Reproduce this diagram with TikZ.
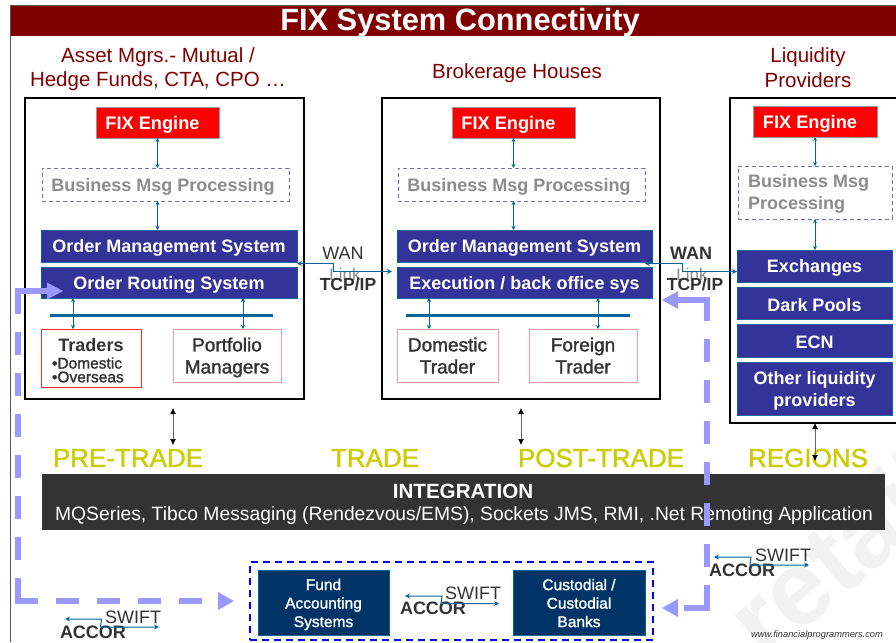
\documentclass[tikz,border=0pt]{standalone}
\usepackage{fontspec}
\setmainfont{Liberation Sans}
\newfontfamily\midf[FakeBold=1.5]{Liberation Sans}
\usetikzlibrary{arrows.meta}
\definecolor{maroon}{HTML}{800000}
\definecolor{navyb}{HTML}{333399}
\definecolor{tealc}{HTML}{006699}
\definecolor{lilac}{HTML}{9999FF}
\definecolor{deep}{HTML}{003366}
\definecolor{dark}{HTML}{333333}
\definecolor{olive}{HTML}{CCCC00}
\definecolor{wm}{HTML}{F2F2F2}
\definecolor{traderline}{RGB}{255,40,40}
\definecolor{pinkline}{HTML}{FF9999}
\newcommand{\fs}[1]{\fontsize{#1}{#1}\selectfont}
\newcommand{\bx}[7]{%
  \pgfmathsetmacro{\bxa}{(#3+#5)/2}\pgfmathsetmacro{\bxb}{(#4+#6)/2}%
  \pgfmathsetmacro{\bxc}{#5-#3}\pgfmathsetmacro{\bxd}{#6-#4}%
  \node[#1,minimum width=\bxc pt,minimum height=\bxd pt] (#2) at (\bxa,\bxb) {};%
  \node[#1,draw=none,fill=none,yshift=-2pt] (#2t) at (\bxa,\bxb) {#7};}
\tikzset{
  x=1pt,y=-1pt,
  every node/.style={inner sep=0pt,outer sep=0pt,align=center},
  panel/.style={draw=black,line width=2.6pt,fill=white},
  fixbox/.style={fill=red,draw=black!40,line width=.5pt,text=white,font=\bfseries\fs{18.2}},
  msgbox/.style={draw=navyb!70,line width=.7pt,dash pattern=on 4pt off 3pt,fill=white,text=black!45,font=\bfseries\fs{18}},
  bluebox/.style={fill=navyb,draw=tealc,line width=.6pt,text=white,font=\bfseries\fs{18}},
  pinkbox/.style={fill=white,draw=pinkline,line width=.8pt,text=dark,font=\midf\fs{19}},
  intbox/.style={fill=dark,text=white},
  deepbox/.style={fill=deep,draw=tealc,line width=.5pt,text=white,font=\midf\fs{15.5}},
  groupbox/.style={draw=blue,line width=1.5pt,dash pattern=on 7pt off 5pt},
  head/.style={maroon,font=\fs{20.5}},
  phase/.style={text=olive,font=\midf\fs{26}},
  link/.style={draw=tealc,line width=1pt,{Stealth[length=4pt,width=4pt]}-{Stealth[length=4pt,width=4pt]}},
  zig/.style={draw=tealc,line width=1pt,{Stealth[length=5pt,width=5pt]}-{Stealth[length=5pt,width=5pt]}},
  vert/.style={draw=black!60,line width=.7pt,{Latex[length=6pt,width=6pt,black]}-{Latex[length=6pt,width=6pt,black]}},
  bar/.style={draw=tealc,line width=3pt},
  lil/.style={draw=lilac,line width=5.5pt,dash pattern=on 23pt off 18pt},
  lilsolid/.style={draw=lilac,line width=5.5pt},
  lilhead/.style={fill=lilac},
  lbl/.style={text=dark},
}
\begin{document}
\begin{tikzpicture}
\useasboundingbox (0,0) rectangle (896,642);
\fill[white] (0,0) rectangle (896,642);
\begin{scope}
\clip (0,0) rectangle (896,642);
\node[rotate=40,text=wm,font=\bfseries\fs{105}] (wmark) at (837,553) {retail};
\end{scope}
\draw[black!65,line width=.8pt] (896,5.5) -- (10.5,5.5) -- (10.5,642);
\fill[maroon] (10.5,6) rectangle (896,36.5);
\node[text=white,font=\bfseries\fs{30.8}] (title) at (460,23) {FIX System Connectivity};
\node[head] (h1a) at (158,57) {Asset Mgrs.- Mutual /};
\node[head] (h1b) at (158,81) {Hedge Funds, CTA, CPO …};
\node[head] (h2) at (517,73) {Brokerage Houses};
\node[head] (h3a) at (808,57) {Liquidity};
\node[head] (h3b) at (808,80) {Providers};
% panels
\bx{panel}{p1}{25}{98}{304}{399}{}
\bx{panel}{p2}{382}{98}{660}{399}{}
\bx{panel}{p3}{730}{98}{910}{423}{}
% left panel
\bx{fixbox}{f1}{96}{107}{219}{138}{FIX Engine\rule{10pt}{0pt}}
\bx{msgbox}{m1}{42}{168}{289}{201}{Business Msg Processing\rule{5pt}{0pt}}
\bx{bluebox}{o1}{41}{230}{297}{262}{Order Management System}
\bx{bluebox}{r1}{41}{267}{297}{298}{Order Routing System}
\bx{pinkbox}{q1}{173}{329}{281}{382}{Portfolio\\[3pt]Managers}
\node[text=dark,font=\bfseries\fs{18}] (t1a) at (91,345) {Traders};
\node[text=dark,font=\midf\fs{15.5}, anchor=west] (t1b) at (52,363) {•Domestic};
\node[text=dark,font=\midf\fs{15.5}, anchor=west] (t1c) at (52,377) {•Overseas};
\draw[draw=traderline,line width=1pt] (41,329) rectangle (141,387);
\coordinate (t1n) at (91,329);
% middle panel
\bx{fixbox}{f2}{452}{107}{575}{138}{FIX Engine\rule{10pt}{0pt}}
\bx{msgbox}{m2}{398}{168}{645}{201}{Business Msg Processing\rule{5pt}{0pt}}
\bx{bluebox}{o2}{397}{230}{652}{262}{Order Management System}
\bx{bluebox}{r2}{397}{267}{652}{298}{Execution / back office sys}
\bx{pinkbox}{d2}{397}{329}{498}{382}{Domestic\\[3pt]Trader\rule[-4pt]{0pt}{1pt}}
\bx{pinkbox}{q2}{529}{329}{637}{382}{Foreign\\[3pt]Trader\rule[-4pt]{0pt}{1pt}}
% right panel
\bx{fixbox}{f3}{753}{106}{877}{137}{FIX Engine\rule{10pt}{0pt}}
\bx{msgbox}{m3}{738}{166}{892}{219}{}
\node[text=black!45,font=\bfseries\fs{18},align=left,anchor=west] (m3x) at (748,194) {Business Msg\\[4pt]Processing};
\bx{bluebox}{x3}{737}{250}{892}{282}{Exchanges}
\bx{bluebox}{y3}{737}{287}{892}{319}{Dark Pools}
\bx{bluebox}{z3}{737}{324}{892}{357}{ECN}
\bx{bluebox}{w3}{737}{362}{892}{415}{Other liquidity\\[4pt]providers}
% inner links
\draw[link] (f1.south) -- (f1.south |- m1.north);
\draw[link] (f1.south |- m1.south) -- (f1.south |- o1.north);
\draw[link] (f2.south) -- (f2.south |- m2.north);
\draw[link] (f2.south |- m2.south) -- (f2.south |- o2.north);
\draw[link] (f3.south) -- (f3.south |- m3.north);
\draw[link] (f3.south |- m3.south) -- (f3.south |- x3.north);
\coordinate (b1l) at (50,315); \coordinate (b1r) at (273,315);
\coordinate (b2l) at (406,315); \coordinate (b2r) at (630,315);
\draw[bar] (b1l) -- (b1r);
\draw[bar] (b2l) -- (b2r);
\draw[link] (73,298) -- (73,329);
\draw[link] (243,298) -- (243,329);
\draw[link] (429,298) -- (429,329);
\draw[link] (598,298) -- (598,329);
% WAN labels
\node[text=black!45,font=\fs{17}] (lk1) at (345,274) {Link};
\node[text=black!45,font=\fs{17}] (lk2) at (692,274) {Link};
\node[text=dark,font=\fs{18}] (wan1) at (343,253) {WAN};
\node[text=dark,font=\bfseries\fs{18}] (wan2) at (691,253) {WAN};
\node[text=dark,font=\bfseries\fs{17.5}] (tcp1) at (348,284) {TCP/IP};
\node[text=dark,font=\bfseries\fs{17.5}] (tcp2) at (695,284) {TCP/IP};
\coordinate (w1a) at (297,263.5); \coordinate (w1b) at (333,263.5); \coordinate (w1c) at (333,271.5); \coordinate (w1d) at (392,271.5);
\draw[zig] (w1a) -- (w1b) -- (w1c) -- (w1d);
\coordinate (w2a) at (645,263.5); \coordinate (w2b) at (682,263.5); \coordinate (w2c) at (682,271.5);
\draw[zig] (w2a) -- (w2b) -- (w2c) -- (x3.west |- w2c);
% phases
\node[phase] (ph1) at (128,458) {PRE-TRADE};
\node[phase] (ph2) at (375,458) {TRADE};
\node[phase] (ph3) at (601,458) {POST-TRADE};
\node[phase] (ph4) at (808,458) {REGIONS};
\coordinate (v1a) at (173,408); \coordinate (v1b) at (173,445);
\coordinate (v2a) at (521,408); \coordinate (v2b) at (521,445);
\coordinate (v3a) at (815,423); \coordinate (v3b) at (815,461);
\draw[vert] (v1a) -- (v1b);
\draw[vert] (v2a) -- (v2b);
\draw[vert] (v3a) -- (v3b);
% integration
\bx{intbox}{ib}{42}{474}{885}{530}{}
\node[text=white,font=\bfseries\fs{20.6}] (ib1) at (463,491) {INTEGRATION};
\node[text=white,font=\fs{19.3}] (ib2) at (464,516) {MQSeries, Tibco Messaging (Rendezvous/EMS), Sockets JMS, RMI, .Net Remoting Application};
% bottom group
\bx{groupbox}{gb}{250}{562}{653}{640}{}
\bx{deepbox}{fa}{258}{570}{389}{635}{Fund\\[3pt]Accounting\\[3pt]Systems}
\bx{deepbox}{cb}{513}{570}{645}{635}{Custodial /\\[3pt]Custodial\\[3pt]Banks\rule[-3pt]{0pt}{1pt}}
% swift groups
\node[lbl,font=\fs{18}] (s1) at (133,617) {SWIFT};
\node[lbl,font=\bfseries\fs{18}] (a1) at (93,632) {ACCOR};
\draw[zig] (65,619) -- (101.5,619) -- (100.5,627) -- (159,627);
\node[lbl,font=\fs{18}] (s2) at (473,593) {SWIFT};
\node[lbl,font=\bfseries\fs{18}] (a2) at (433,608) {ACCOR};
\draw[zig] (405,596) -- (442,596) -- (441,603.5) -- (499,603.5);
\node[lbl,font=\fs{18}] (s3) at (783,555) {SWIFT};
\node[lbl,font=\bfseries\fs{18}] (a3) at (742,570) {ACCOR};
\draw[zig] (714,557) -- (751,557) -- (750,565) -- (809,565);
\node[text=black!80,font=\itshape\fs{9.3}] (web) at (817,635) {www.financialprogrammers.com};
% lilac arrows
\coordinate (la) at (18,291); \coordinate (lb) at (18,601); \coordinate (lc) at (205,601);
\draw[lilsolid] (15.25,291) -- (48,291);
\draw[lil] (la) -- (lb);
\draw[lil] (15.25,601) -- (lc);
\fill[lilhead] (63,291) -- (47,282.5) -- (47,299.5) -- cycle;
\fill[lilhead] (234,601) -- (218,592) -- (218,610) -- cycle;
\coordinate (ra) at (707,298); \coordinate (rb) at (707,610.75);
\draw[lilsolid] (709.75,300) -- (677,300);
\draw[lil] (ra) -- (rb);
\draw[lilsolid] (709.75,608) -- (684,608);
\fill[lilhead] (662,300) -- (678,291) -- (678,309) -- cycle;
\fill[lilhead] (662,608) -- (678,599) -- (678,617) -- cycle;
\end{tikzpicture}
\end{document}
